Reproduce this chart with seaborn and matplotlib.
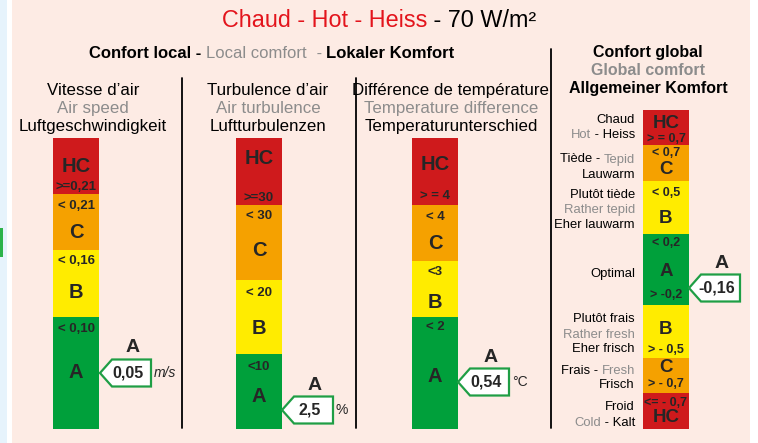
import numpy as np
import pandas as pd
import matplotlib
matplotlib.use("Agg")
import matplotlib.pyplot as plt
import seaborn as sns
from matplotlib.patches import Polygon, Rectangle

sns.set_style("white")
plt.rcParams["font.family"] = ["Liberation Sans", "DejaVu Sans"]

W, H = 758, 443

RED = "#cf1a1c"
ORANGE = "#f5a100"
YELLOW = "#ffec00"
GREEN = "#00a03b"
PINK = "#fdebe4"
GREY = "#8c8c8c"
TITLE_RED = "#e3141c"
band_colors = {"HC": RED, "C": ORANGE, "B": YELLOW, "A": GREEN}

# donnees (du bas vers le haut)
speed_bands = ["A", "B", "C", "HC"]
speed_heights = [112, 67, 56, 56]
speed_limits = ["< 0,10", "< 0,16", "< 0,21", ">=0,21"]
speed_value, speed_grade, speed_unit = "0,05", "A", "m/s"

turb_bands = ["A", "B", "C", "HC"]
turb_heights = [75, 74, 75, 67]
turb_limits = ["<10", "< 20", "< 30", ">=30"]
turb_value, turb_grade, turb_unit = "2,5", "A", "%"

temp_bands = ["A", "B", "C", "HC"]
temp_heights = [112, 56, 56, 67]
temp_limits = ["< 2", "<3", "< 4", "> = 4"]
temp_value, temp_grade, temp_unit = "0,54", "A", "°C"

global_bands = ["HC", "C", "B", "A", "B", "C", "HC"]
global_heights = [36, 35, 53, 71, 53, 36, 35]
global_limits = ["<= - 0,7", "> - 0,7", "> - 0,5", "> -0,2", "< 0,2", "< 0,5", "< 0,7", "> = 0,7"]
global_value, global_grade = "-0,16", "A"

global_names = [
    [("Chaud", "k")], [("Hot", "g"), (" - Heiss", "k")],
    [("Tiède - ", "k"), ("Tepid", "g")], [("Lauwarm", "k")],
    [("Plutôt tiède", "k")], [("Rather tepid", "g")], [("Eher lauwarm", "k")],
    [("Optimal", "k")],
    [("Plutôt frais", "k")], [("Rather fresh", "g")], [("Eher frisch", "k")],
    [("Frais - ", "k"), ("Fresh", "g")], [("Frisch", "k")],
    [("Froid", "k")], [("Cold", "g"), (" - Kalt", "k")],
]
global_names_y = [118, 133, 158, 173, 193, 208, 223, 273, 318, 333, 347, 369, 384, 405, 421]

fig = plt.figure(figsize=(W / 100, H / 100), dpi=100)

# fond
bg = fig.add_axes([0, 0, 1, 1], zorder=0)
bg.set_xlim(0, W)
bg.set_ylim(H, 0)
bg.axis("off")
bg.add_patch(Rectangle((0, 0), 7, H, color="#e6f3fc", lw=0))
bg.add_patch(Rectangle((12, 0), 738, H, color=PINK, lw=0))
bg.add_patch(Rectangle((0, 228), 2.5, 29, color="#2db34a", lw=0))

ax = fig.add_axes([0, 0, 1, 1], zorder=2)
ax.set_xlim(0, W)
ax.set_ylim(H, 0)
ax.axis("off")
ax.patch.set_alpha(0)
renderer = fig.canvas.get_renderer()


def text_width(s, **kw):
    t = ax.text(0, 0, s + "|", **kw)
    w1 = t.get_window_extent(renderer).width
    t.remove()
    t = ax.text(0, 0, "|", **kw)
    w2 = t.get_window_extent(renderer).width
    t.remove()
    return w1 - w2


def rich_text(x, y, parts, ha="center", size=10):
    # parts: (texte, couleur, graisse)
    widths = [text_width(s, size=size, weight=wt) for s, c, wt in parts]
    total = sum(widths)
    if ha == "center":
        x -= total / 2
    elif ha == "right":
        x -= total
    for (s, c, wt), w in zip(parts, widths):
        ax.text(x, y, s, color=c, weight=wt, size=size, ha="left", va="center_baseline")
        x += w


def draw_gauge(x0, x1, bottom, bands, heights):
    total = sum(heights)
    gax = fig.add_axes([x0 / W, 1 - bottom / H, (x1 - x0) / W, total / H], zorder=1)
    keys = [f"{b}_{i}" for i, b in enumerate(bands)]
    df = pd.DataFrame({"g": ["g"] * len(keys), "top": np.cumsum(heights), "band": keys})
    pal = {k: band_colors[b] for k, b in zip(keys, bands)}
    sns.barplot(data=df, x="g", y="top", hue="band", hue_order=keys[::-1], palette=pal,
                dodge=False, width=1, saturation=1, errorbar=None, legend=False,
                linewidth=0, ax=gax)
    gax.set_xlim(-0.5, 0.5)
    gax.set_ylim(0, total)
    gax.axis("off")
    gax.patch.set_alpha(0)


def band_labels(xc, bands, letter_y, limits, limit_y, big=14.5, small=9.5):
    for b, y in zip(bands, letter_y):
        ax.text(xc, y, b, size=big, weight="bold", ha="center", va="center")
    for s, y in zip(limits, limit_y):
        ax.text(xc, y, s, size=small, weight="bold", ha="center", va="center")


def callout(xtip, yc, value, grade, unit=None, w=51, h=27):
    pts = [(xtip, yc), (xtip + 12, yc - h / 2), (xtip + w, yc - h / 2),
           (xtip + w, yc + h / 2), (xtip + 12, yc + h / 2)]
    ax.add_patch(Polygon(pts, closed=True, facecolor="white", edgecolor="#1f9e45", lw=1.6))
    ax.text(xtip + 28, yc, value, size=11.5, weight="bold", ha="center", va="center")
    ax.text(xtip + 33, yc - 25, grade, size=14, weight="bold", ha="center", va="center")
    if unit:
        it = "italic" if unit == "m/s" else "normal"
        ax.text(xtip + w + 3, yc, unit, size=10, style=it, ha="left", va="center")


# titres
rich_text(379, 18, [("Chaud - Hot - Heiss", TITLE_RED, "normal"), (" - 70 W/m²", "black", "normal")], size=16.8)
rich_text(272, 52, [("Confort local - ", "black", "bold"), ("Local comfort ", GREY, "normal"),
                    (" - ", GREY, "normal"), ("Lokaler Komfort", "black", "bold")], size=12)

headers = [(93, ["Vitesse d’air", "Air speed", "Luftgeschwindigkeit"]),
           (268, ["Turbulence d’air", "Air turbulence", "Luftturbulenzen"]),
           (451, ["Différence de température", "Temperature difference", "Temperaturunterschied"])]
for xc, lines in headers:
    for y, s, c in zip([90, 108, 126], lines, ["black", GREY, "black"]):
        ax.text(xc, y, s, size=12.2, color=c, ha="center", va="center")

for y, s, c in zip([52, 70, 88], ["Confort global", "Global comfort", "Allgemeiner Komfort"],
                   ["black", GREY, "black"]):
    ax.text(648, y, s, size=11.5, weight="bold", color=c, ha="center", va="center")

# separateurs
for x, y0 in [(182, 78), (356, 78), (551, 49)]:
    ax.plot([x, x], [y0, 428], color="black", lw=1.3)

# jauges
draw_gauge(53, 99, 429, speed_bands, speed_heights)
draw_gauge(236, 282, 429, turb_bands, turb_heights)
draw_gauge(412, 458, 429, temp_bands, temp_heights)
draw_gauge(643, 689, 429, global_bands, global_heights)

band_labels(76, speed_bands, [373, 292, 232, 166], speed_limits, [329, 261, 206, 187])
band_labels(259, turb_bands, [397, 328, 250, 159], turb_limits, [367, 293, 216, 198])
band_labels(435, temp_bands, [376, 302, 243, 165], temp_limits, [327, 272, 217, 196])
band_labels(666, global_bands, [418, 368, 329, 272, 218, 170, 123], global_limits,
            [403, 384, 350, 295, 243, 193, 153, 139], big=13.5, small=9)

callout(100, 373, speed_value, speed_grade, speed_unit)
callout(282, 410, turb_value, turb_grade, turb_unit)
callout(458, 382, temp_value, temp_grade, temp_unit)
callout(689, 288, global_value, global_grade)

for y, parts in zip(global_names_y, global_names):
    rich_text(635, y, [(s, "black" if c == "k" else GREY, "normal") for s, c in parts],
              ha="right", size=9.4)

fig.savefig("out.png", dpi=100)
